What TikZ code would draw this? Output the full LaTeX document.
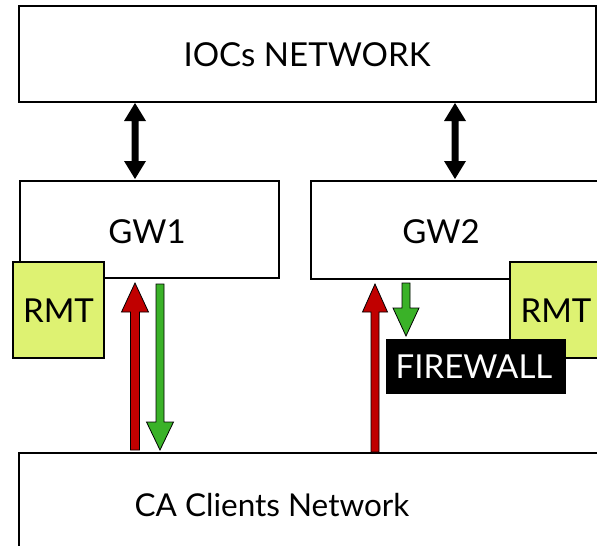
\documentclass[tikz,border=0pt]{standalone}
\usepackage{fontspec}
\setmainfont{Lato}
\usetikzlibrary{calc}
\definecolor{rmtfill}{RGB}{222,242,114}
\definecolor{redarr}{RGB}{192,0,0}
\definecolor{greenarr}{RGB}{58,178,40}
\newcommand{\fatarrow}[6]{%
  \filldraw[fill=#3, draw=black, line width=0.8pt, line join=miter]
  let \p1=(#1), \p2=(#2), \n1={sign(\y2-\y1)} in
  (\x1-#4,\y1) -- (\x1-#4,{\y2-\n1*#6}) -- (\x1-#5,{\y2-\n1*#6}) -- (\x1,\y2)
  -- (\x1+#5,{\y2-\n1*#6}) -- (\x1+#4,{\y2-\n1*#6}) -- (\x1+#4,\y1) -- cycle;}
\newcommand{\dblarrow}[2]{%
  \fill[black]
  let \p1=(#1), \p2=(#2) in
  (\x1,\y1) -- (\x1+11pt,\y1-18pt) -- (\x1+3.5pt,\y1-18pt) -- (\x1+3.5pt,\y2+18pt)
  -- (\x1+11pt,\y2+18pt) -- (\x1,\y2) -- (\x1-11pt,\y2+18pt) -- (\x1-3.5pt,\y2+18pt)
  -- (\x1-3.5pt,\y1-18pt) -- (\x1-11pt,\y1-18pt) -- cycle;}
\begin{document}
\begin{tikzpicture}[x=1pt,y=-1pt,
  box/.style={draw=black, line width=1.5pt, fill=white, inner sep=0pt},
  rmtbox/.style={draw=black, line width=1.2pt, fill=rmtfill, inner sep=0pt,
    minimum width=91pt, minimum height=96pt},
  lbl/.style={font=\fontsize{33}{40}\selectfont, inner sep=0pt, anchor=center}]
\useasboundingbox (0,0) rectangle (597,546);
\clip (0,0) rectangle (597,546);
% boxes
\node[box, minimum width=577pt, minimum height=96pt] (ioc) at (307.5,54) {};
\node[box, minimum width=259pt, minimum height=97pt] (gw1) at (149.5,229.5) {};
\node[box, minimum width=289pt, minimum height=98pt] (gw2) at (455.5,230) {};
\node[rmtbox] (rmt1) at (58.5,310) {};
\node[rmtbox] (rmt2) at (555.5,310) {};
\node[fill=black, minimum width=180pt, minimum height=55pt, inner sep=0pt] (fw) at (476,366.5) {};
\node[box, minimum width=581pt, minimum height=107pt] (ca) at (309.5,506.5) {};
% labels
\node[lbl] (tioc) at (307,55) {IOCs NETWORK};
\node[lbl] (tgw1) at (147,232) {GW1};
\node[lbl] (tgw2) at (441,232) {GW2};
\node[lbl] (trmt1) at (58.5,311) {RMT};
\node[lbl] (trmt2) at (556,311) {RMT};
\node[lbl, text=white] (tfw) at (474,367) {FIREWALL};
\node[lbl, font=\fontsize{31.5}{38}\selectfont] (tca) at (272,505) {CA Clients Network};
% connector end points
\coordinate (b1t) at (135,103);
\coordinate (b1b) at (135,179);
\coordinate (b2t) at (455,103);
\coordinate (b2b) at (455,179);
\coordinate (r1s) at (135,450);
\coordinate (r1e) at (135,283);
\coordinate (g1s) at (160,284);
\coordinate (g1e) at (160,450);
\coordinate (r2s) at (375,452);
\coordinate (r2e) at (375,284);
\coordinate (g2s) at (406,283);
\coordinate (g2e) at (406,336);
% arrows
\dblarrow{b1t}{b1b}
\dblarrow{b2t}{b2b}
\fatarrow{r1s}{r1e}{redarr}{4.5pt}{13.5pt}{29pt}
\fatarrow{g1s}{g1e}{greenarr}{4pt}{13.5pt}{28pt}
\fatarrow{r2s}{r2e}{redarr}{4pt}{12.5pt}{28pt}
\fatarrow{g2s}{g2e}{greenarr}{4pt}{13pt}{28pt}
\end{tikzpicture}
\end{document}
